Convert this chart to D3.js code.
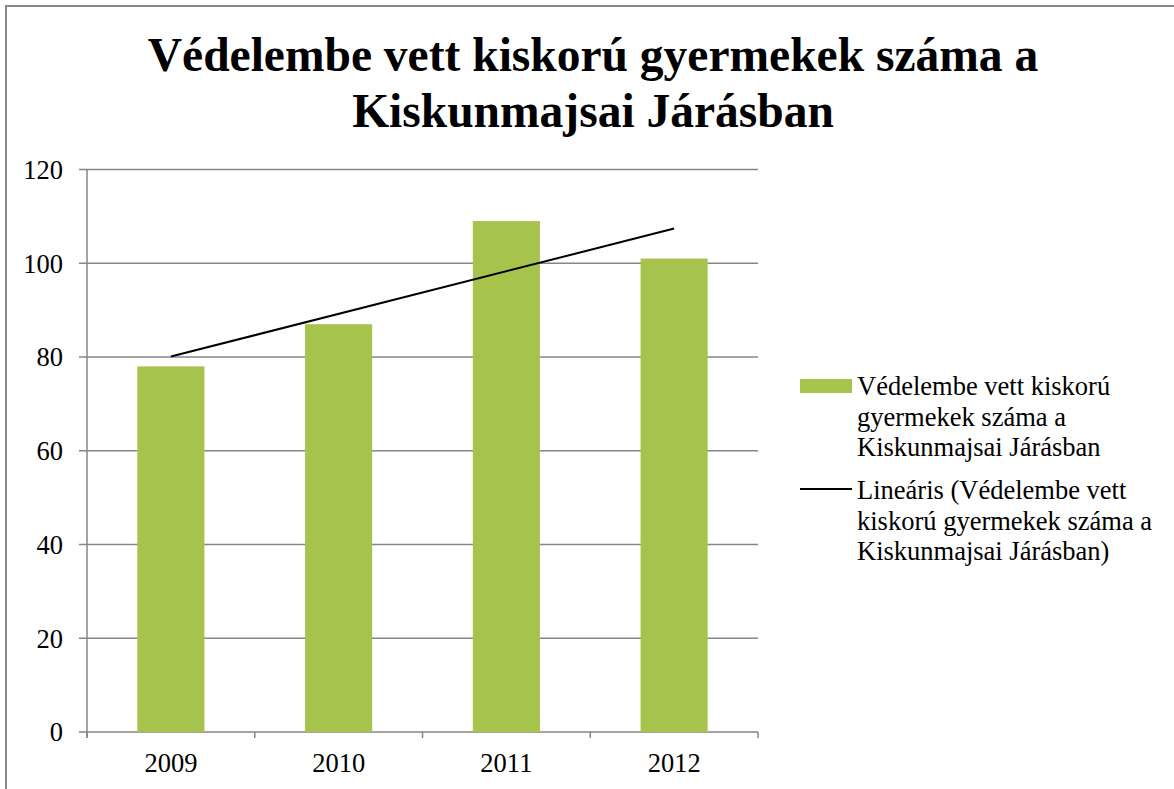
<!DOCTYPE html>
<html>
<head>
<meta charset="utf-8">
<script src="https://cdn.jsdelivr.net/npm/d3@7"></script>
<style>
  html, body { margin: 0; padding: 0; background: #fff; }
  svg { display: block; }
</style>
</head>
<body>
<svg id="chart" width="1174" height="789"></svg>
<script>
const titleLines = ["Védelembe vett kiskorú gyermekek száma a", "Kiskunmajsai Járásban"];
const categories = ["2009", "2010", "2011", "2012"];
const values = [78, 87, 109, 101];
const yTicks = [0, 20, 40, 60, 80, 100, 120];
const seriesLegend = ["Védelembe vett kiskorú", "gyermekek száma a", "Kiskunmajsai Járásban"];
const trendLegend = ["Lineáris (Védelembe vett", "kiskorú gyermekek száma a", "Kiskunmajsai Járásban)"];

const FONT = "'Times New Roman', 'Liberation Serif', Tinos, 'DejaVu Serif', serif";
const svg = d3.select("#chart").attr("font-family", FONT);
const barColor = "#a6c34b";
const gridColor = "#868686";

// outer chart border (extends beyond viewport on right/bottom)
svg.append("rect")
  .attr("x", 6).attr("y", 6).attr("width", 1200).attr("height", 900)
  .attr("fill", "none").attr("stroke", "#878787").attr("stroke-width", 2);

// title
svg.append("g").selectAll("text").data(titleLines).join("text")
  .attr("x", 593).attr("y", (d, i) => 71 + i * 56)
  .attr("text-anchor", "middle").attr("font-family", FONT)
  .attr("font-size", 47.5).attr("font-weight", "bold")
  .text(d => d);

const x0 = 87, x1 = 758, yTop = 169.5, yBot = 732;
const x = d3.scaleBand().domain(categories).range([x0, x1]).padding(0);
const y = d3.scaleLinear().domain([0, 120]).range([yBot, yTop]);

// gridlines
svg.append("g").selectAll("line").data(yTicks).join("line")
  .attr("x1", x0 - 8).attr("x2", x1)
  .attr("y1", d => y(d)).attr("y2", d => y(d))
  .attr("stroke", gridColor).attr("stroke-width", 1.5);

// y axis line
svg.append("line").attr("x1", x0).attr("x2", x0).attr("y1", yTop).attr("y2", yBot + 6)
  .attr("stroke", gridColor).attr("stroke-width", 1.5);

// x-axis ticks at category boundaries
const boundaries = categories.map(c => x(c)).concat([x1]);
svg.append("g").selectAll("line").data(boundaries).join("line")
  .attr("x1", d => d).attr("x2", d => d)
  .attr("y1", yBot).attr("y2", yBot + 6)
  .attr("stroke", gridColor).attr("stroke-width", 1.5);

// y labels
svg.append("g").selectAll("text").data(yTicks).join("text")
  .attr("x", 63).attr("y", d => y(d)).attr("dy", "0.35em")
  .attr("text-anchor", "end").attr("font-family", FONT).attr("font-size", 26.5)
  .text(d => d);

// x labels
svg.append("g").selectAll("text").data(categories).join("text")
  .attr("x", d => x(d) + x.bandwidth() / 2).attr("y", 772)
  .attr("text-anchor", "middle").attr("font-family", FONT).attr("font-size", 26.5)
  .text(d => d);

// bars
const bw = x.bandwidth() * 0.4;
svg.append("g").selectAll("rect").data(values).join("rect")
  .attr("x", (d, i) => x(categories[i]) + (x.bandwidth() - bw) / 2)
  .attr("width", bw)
  .attr("y", d => y(d))
  .attr("height", d => y(0) - y(d))
  .attr("fill", barColor);

// linear trendline (least squares over category index)
const n = values.length;
const xs = values.map((d, i) => i + 1);
const mx = d3.mean(xs), my = d3.mean(values);
const slope = d3.sum(xs.map((xi, i) => (xi - mx) * (values[i] - my))) / d3.sum(xs.map(xi => (xi - mx) ** 2));
const intercept = my - slope * mx;
const trend = [xs[0], xs[n - 1]].map(xi => ({ cat: categories[xi - 1], v: intercept + slope * xi }));
svg.append("path")
  .datum(trend)
  .attr("d", d3.line().x(d => x(d.cat) + x.bandwidth() / 2).y(d => y(d.v)))
  .attr("stroke", "#000").attr("stroke-width", 2).attr("fill", "none");

// legend
const lg = svg.append("g");
lg.append("rect").attr("x", 800).attr("y", 379).attr("width", 52).attr("height", 14).attr("fill", barColor);
lg.append("g").selectAll("text").data(seriesLegend).join("text")
  .attr("x", 857).attr("y", (d, i) => 395 + i * 30.5)
  .attr("font-family", FONT).attr("font-size", 26.5).text(d => d);
lg.append("line").attr("x1", 800).attr("x2", 852).attr("y1", 489).attr("y2", 489)
  .attr("stroke", "#000").attr("stroke-width", 2);
lg.append("g").selectAll("text").data(trendLegend).join("text")
  .attr("x", 857).attr("y", (d, i) => 499 + i * 30.5)
  .attr("font-family", FONT).attr("font-size", 26.5).text(d => d);
</script>
</body>
</html>
